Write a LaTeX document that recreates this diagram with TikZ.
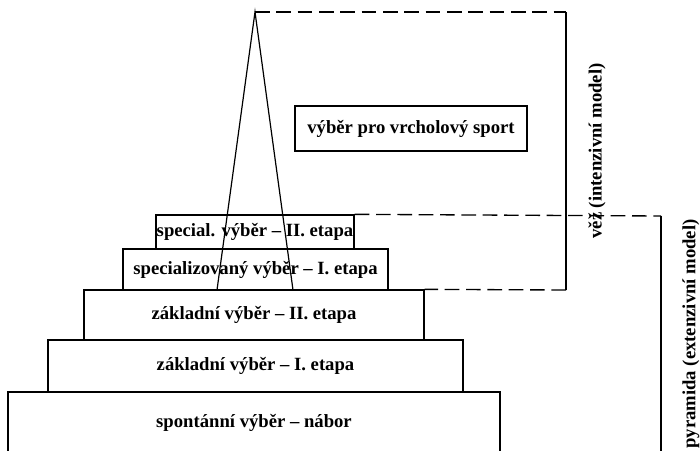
\documentclass[tikz,border=0pt]{standalone}
\usepackage{fontspec}
\setmainfont{Liberation Serif}
\begin{document}
\begin{tikzpicture}[x=0.75pt,y=-0.75pt,
  every node/.style={font=\bfseries\fontsize{14}{16}\selectfont},
  stage/.style={draw, line width=1pt, inner sep=0pt},
  zone/.style={line width=1pt, dash pattern=on 11pt off 5pt},
  rim/.style={line width=1pt},
  spike/.style={line width=0.9pt}]
\useasboundingbox (0,0) rectangle (700,450);
\clip (0,0) rectangle (700,450);

% stages of the pyramid, bottom to top
\node[stage, minimum width=369pt,    minimum height=46.5pt]  (s1) at (254,423)   {spontánní výběr – nábor};
\node[stage, minimum width=311.25pt, minimum height=39pt]    (s2) at (255.5,366) {základní výběr – I. etapa};
\node[stage, minimum width=255pt,    minimum height=37.5pt]  (s3) at (254,315)   {základní výběr – II. etapa};
\node[stage, minimum width=198.75pt, minimum height=30.75pt] (s4) at (255.5,269.5) {specializovaný výběr – I. etapa};
\node[stage, minimum width=148.5pt,  minimum height=25.5pt]  (s5) at (255,232)   {special. výběr – II. etapa};

% top-level selection
\node[stage, minimum width=174pt, minimum height=33.75pt] (top) at (411,128.5) {výběr pro vrcholový sport};

% corners of the two zones
\coordinate (apex) at (255,12);
\coordinate (tl) at (217,290);
\coordinate (tr) at (293,290);
\coordinate (towerTR) at (566,12);
\coordinate (towerBR) at (566,290);
\coordinate (pyrTR) at (661,216);
\coordinate (pyrBR) at (661,460);

% tower (intensive model)
\draw[zone] (apex) -- (towerTR);
\draw[rim] (towerTR) -- (towerBR);
\draw[zone] (towerBR) -- (s3.north east);

% pyramid (extensive model)
\draw[zone] (s5.north east) -- (pyrTR);
\draw[rim] (pyrTR) -- (pyrBR);

% the spike rising from the pyramid
\draw[spike] (tl) -- (apex) -- (tr);

% zone labels
\node[rotate=90, inner sep=0pt] (towerlabel) at (597,151) {věž (intenzivní model)};
\node[rotate=90, inner sep=0pt] (pyrlabel) at (691,334) {pyramida (extenzivní model)};
\end{tikzpicture}
\end{document}
